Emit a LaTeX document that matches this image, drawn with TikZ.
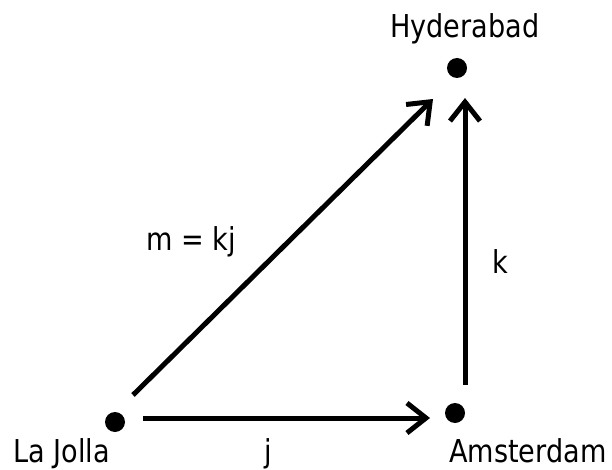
\documentclass[tikz,border=0pt]{standalone}
\usepackage{fontspec}
\setmainfont{DejaVu Sans}[FakeStretch=0.86]
\usetikzlibrary{arrows.meta}
\tikzset{
  dotnode/.style={circle,fill=black,inner sep=0pt,minimum size=20pt},
  lbl/.style={anchor=base west,inner sep=0pt,font=\fontsize{31.5pt}{36pt}\selectfont},
  arr/.style={line width=5pt,-{Straight Barb[length=19pt,width=30pt,line width=5pt]}}
}
\begin{document}
\begin{tikzpicture}[x=1pt,y=-1pt]
\useasboundingbox (0,0) rectangle (612,470);
% points
\node[dotnode] (lj) at (115,422) {};
\node[dotnode] (am) at (455,413) {};
\node[dotnode] (hy) at (457,68) {};
% labels
\node[lbl] (ljl) at (13,462) {La Jolla};
\node[lbl] (aml) at (449,462) {Amsterdam};
\node[lbl] (hyl) at (390,38) {Hyderabad};
\node[lbl] (jl) at (264,462) {j};
\node[lbl] (kl) at (492,273) {k};
\node[lbl] (ml) at (146,250) {m = kj};
% arrow end points
\coordinate (jS) at (143,418);
\coordinate (jE) at (430,418);
\coordinate (kS) at (465,385);
\coordinate (kE) at (465,98);
\coordinate (mS) at (133,395);
\coordinate (mE) at (433,99);
\draw[arr] (jS) -- (jE);
\draw[arr] (kS) -- (kE);
\draw[arr] (mS) -- (mE);
\end{tikzpicture}
\end{document}
